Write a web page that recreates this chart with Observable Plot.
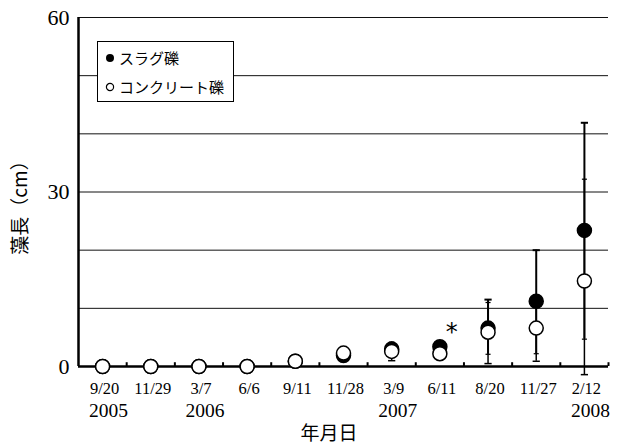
<!DOCTYPE html>
<html>
<head>
<meta charset="utf-8">
<script src="https://cdn.jsdelivr.net/npm/d3@7"></script>
<script src="https://cdn.jsdelivr.net/npm/@observablehq/plot@0.6"></script>
<style>
  body { margin: 0; background: white; }
  #wrap { position: relative; width: 618px; height: 443px; overflow: hidden; }
  .cjk { font-family: "Noto Sans CJK JP", sans-serif; color: #000; position: absolute; white-space: nowrap; line-height: 1; }
  #legend { left: 97px; top: 41px; width: 137px; height: 61px; border: 1px solid #000; background: #fff; box-sizing: border-box; font-size: 15px; }
  #legend .row { position: absolute; left: 7px; display: flex; align-items: center; }
  #legend svg { margin-right: 4px; }
  #ylabel { left: 18px; top: 203px; font-size: 19px; transform: translate(-50%, -50%) rotate(-90deg); }
  #xlabel { left: 329px; top: 431px; font-size: 19px; transform: translate(-50%, -50%); }
</style>
</head>
<body>
<div id="wrap">
  <div id="chart"></div>
  <div id="legend" class="cjk">
    <div class="row" style="top:8px"><svg width="10" height="10"><circle cx="5" cy="5" r="4" fill="#000"/></svg>スラグ礫</div>
    <div class="row" style="top:37px"><svg width="10" height="10"><circle cx="5" cy="5" r="3.6" fill="#fff" stroke="#000" stroke-width="1.2"/></svg>コンクリート礫</div>
  </div>
  <div id="ylabel" class="cjk">藻長（cm）</div>
  <div id="xlabel" class="cjk">年月日</div>
</div>
<script>
const categories = ["9/20","11/29","3/7","6/6","9/11","11/28","3/9","6/11","8/20","11/27","2/12"];
const yearIndex = [0, 2, 6, 10];
const years = ["2005","2006","2007","2008"];
const slag     = [0, 0, 0, 0, 0.9, 1.9, 3.0, 3.4, 6.6, 11.2, 23.4];
const slagLo   = [null, null, null, null, null, null, null, null, 2.1, 2.2, 4.7];
const slagHi   = [null, null, null, null, null, null, null, null, 11.5, 20.0, 41.9];
const concrete = [0, 0, 0, 0, 0.9, 2.3, 2.6, 2.2, 5.9, 6.6, 14.7];
const concLo   = [null, null, null, null, null, null, 1.0, null, 0.5, 0.9, -1.4];
const concHi   = [null, null, null, null, null, null, 4.2, null, 11.0, 12.3, 32.2];
const sigIndex = [7];
const gridTicks = [10, 20, 30, 40, 50, 60];
const yTicks = [0, 30, 60];

const rows = categories.map((c, i) => ({
  i, c, slag: slag[i], slagLo: slagLo[i], slagHi: slagHi[i],
  conc: concrete[i], concLo: concLo[i], concHi: concHi[i]
}));
const slagErr = rows.filter(d => d.slagLo != null);
const concErr = rows.filter(d => d.concLo != null);
const cap = 0.075;
const idx = d3.range(categories.length);
const bounds = idx.map(i => i + 0.5);
const serif = "'Liberation Serif', 'Times New Roman', serif";

const chart = Plot.plot({
  width: 618,
  height: 443,
  marginLeft: 78,
  marginRight: 10,
  marginTop: 17,
  marginBottom: 77,
  x: { type: "linear", domain: [-0.5, categories.length - 0.5], axis: null },
  y: { domain: [0, 60], axis: null },
  style: { fontFamily: serif, background: "white", color: "black" },
  marks: [
    Plot.ruleY(gridTicks, { stroke: "#111", strokeWidth: 1 }),
    // y tick labels
    Plot.text(yTicks, {
      y: d => d, text: d => String(d), frameAnchor: "left", textAnchor: "end",
      dx: -9, fontSize: 22, fontFamily: serif
    }),
    // x category labels
    Plot.text(idx, {
      x: d => d, text: d => categories[d], frameAnchor: "bottom", lineAnchor: "middle",
      dy: 22, dx: 2, fontSize: 16.5, fontFamily: serif
    }),
    // year labels
    Plot.text(yearIndex, {
      x: d => d, text: (d, k) => years[k], frameAnchor: "bottom", fontFamily: serif,
      dy: 44, dx: 6, fontSize: 19.5, lineAnchor: "middle"
    }),
    Plot.ruleX([-0.5], { y1: 0, y2: 60, strokeWidth: 2.5 }),
    Plot.ruleY([0], { strokeWidth: 2.5 }),
    Plot.ruleX(bounds, { y1: 0, y2: 0.65, strokeWidth: 2 }),
    // error bars
    Plot.ruleX(concErr, { x: "i", y1: "concLo", y2: "concHi", strokeWidth: 1.5 }),
    Plot.link(concErr, { x1: d => d.i - cap, x2: d => d.i + cap, y1: "concLo", y2: "concLo", strokeWidth: 1.5 }),
    Plot.link(concErr, { x1: d => d.i - cap * 0.7, x2: d => d.i + cap * 0.7, y1: "concHi", y2: "concHi", strokeWidth: 1.2 }),
    Plot.ruleX(slagErr, { x: "i", y1: "slagLo", y2: "slagHi", strokeWidth: 2 }),
    Plot.link(slagErr, { x1: d => d.i - cap, x2: d => d.i + cap, y1: "slagHi", y2: "slagHi", strokeWidth: 2 }),
    Plot.link(slagErr, { x1: d => d.i - cap * 0.7, x2: d => d.i + cap * 0.7, y1: "slagLo", y2: "slagLo", strokeWidth: 1.2 }),
    // points
    Plot.dot(rows, { x: "i", y: "slag", r: 7, fill: "black", stroke: "black", strokeWidth: 1.5 }),
    Plot.dot(rows, { x: "i", y: "conc", r: 7, fill: "white", stroke: "black", strokeWidth: 1.5 }),
    Plot.text(sigIndex, {
      x: d => d, y: d => slag[d], text: () => "*", dx: 12, dy: -14,
      fontSize: 24, fontFamily: "DejaVu Sans", lineAnchor: "middle"
    })
  ]
});
document.getElementById("chart").appendChild(chart);
</script>
</body>
</html>
